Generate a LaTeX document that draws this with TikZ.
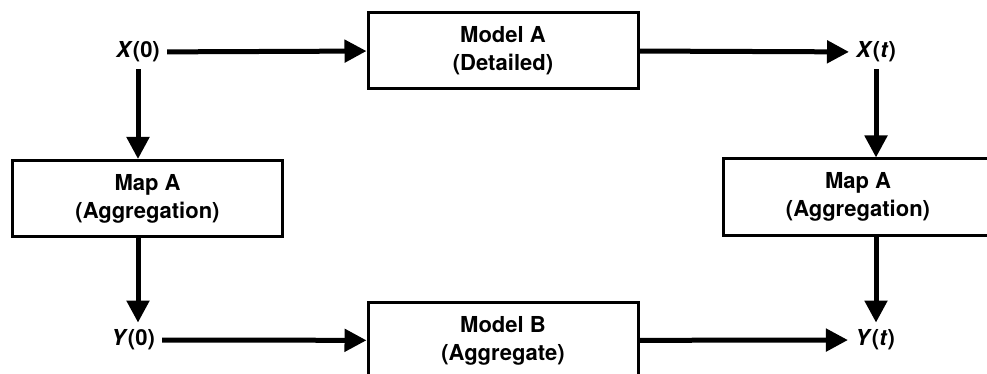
\documentclass[tikz,border=0pt]{standalone}
\usepackage{fontspec}
\setmainfont{TeX Gyre Heros}
\usetikzlibrary{arrows.meta}
\tikzset{
	blockbox/.style={draw, line width=3pt, minimum width=270pt, minimum height=76pt, align=center, font=\fontsize{22}{28}\selectfont\bfseries},
	varlabel/.style={inner sep=7pt, font=\fontsize{22}{28}\selectfont\bfseries},
	flow/.style={line width=5pt, -{Triangle[length=22pt, width=22pt]}}
}

\begin{document}
\begin{tikzpicture}[x=1pt, y=-1pt]
		\path[use as bounding box, clip] (0, 0) rectangle (987, 374);

		\node[blockbox] (modA) at (503, 50.5) {Model A\\(Detailed)};
		\node[blockbox] (modB) at (503, 340.5) {Model B\\(Aggregate)};
		\node[blockbox] (mapL) at (147.5, 198.5) {Map A\\(Aggregation)};
		\node[blockbox] (mapR) at (858, 197) {Map A\\(Aggregation)};

		\node[varlabel] (x0) at (138, 52) {\textit{X}(0)};
		\node[varlabel] (xt) at (876, 52) {\textit{X}(\textit{t})};
		\node[varlabel] (y0) at (133, 340) {\textit{Y}(0)};
		\node[varlabel] (yt) at (875, 340) {\textit{Y}(\textit{t})};

		\draw[flow] (x0) -- (modA);
		\draw[flow] (modA) -- (xt);
		\draw[flow] (y0) -- (modB);
		\draw[flow] (modB) -- (yt);

		\draw[flow] (x0.south) -- (x0.south |- mapL.north);
		\draw[flow] (x0.south |- mapL.south) -- (x0.south |- y0.north);
		\draw[flow] (xt.south) -- (xt.south |- mapR.north);
		\draw[flow] (xt.south |- mapR.south) -- (xt.south |- yt.north);
	\end{tikzpicture}
\end{document}
